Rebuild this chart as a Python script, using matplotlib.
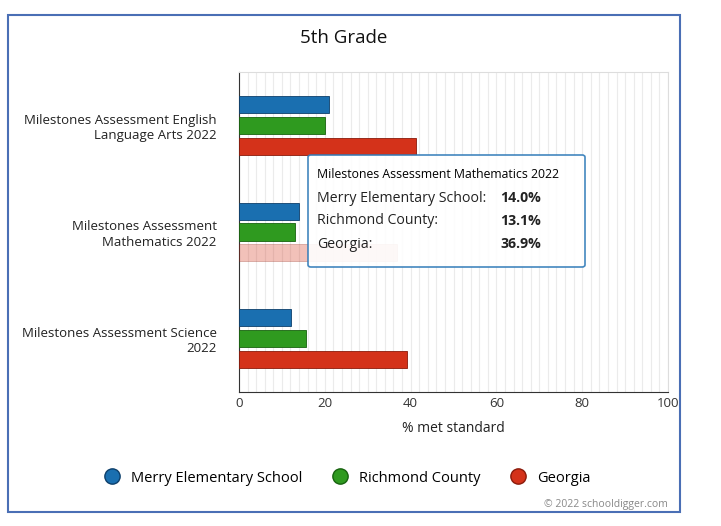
import matplotlib
matplotlib.use('Agg')
import matplotlib.pyplot as plt
from matplotlib.patches import Rectangle, FancyBboxPatch
from matplotlib.lines import Line2D
import numpy as np

plt.rcParams['font.family'] = ['Open Sans', 'DejaVu Sans']

categories = ["Milestones Assessment English\nLanguage Arts 2022",
              "Milestones Assessment\nMathematics 2022",
              "Milestones Assessment Science\n2022"]
series = ["Merry Elementary School", "Richmond County", "Georgia"]
merry = [21.0, 14.0, 12.2]
richmond = [20.0, 13.1, 15.6]
georgia = [41.2, 36.9, 39.1]
colors = ["#1a6fb0", "#2f9a1f", "#d4321a"]
edges = ["#0d3f6b", "#17620e", "#8a1a0a"]
values = [merry, richmond, georgia]

fig = plt.figure(figsize=(7.21, 5.26), dpi=100)
fig.patches.append(Rectangle((8/721, 1-512/526), 672/721, 497/526, transform=fig.transFigure,
                             fill=False, edgecolor="#4a6fb5", linewidth=1.5))
ax = fig.add_axes([239/721, 1-392/526, 429/721, 320/526])

y = np.arange(len(categories))
offsets = [-0.196, 0, 0.196]
for i, (vals, c) in enumerate(zip(values, colors)):
    for j, v in enumerate(vals):
        alpha = 1.0
        if j == 1 and i == 2:
            alpha = 0.3
        ax.barh(y[j] + offsets[i], v, height=0.16, color=c, edgecolor=edges[i],
                linewidth=0.6, alpha=alpha, zorder=3)

ax.set_xlim(0, 100)
ax.set_ylim(2.5, -0.5)
ax.set_xticks(range(0, 101, 20))
ax.set_xticks(range(0, 101, 2), minor=True)
ax.grid(True, axis='x', which='both', color="#ebebeb", linewidth=0.8, zorder=0)
ax.set_yticks(y)
ax.set_yticklabels(categories, fontsize=9.5, color="#222222")
ax.tick_params(axis='y', length=0, pad=16)
ax.tick_params(axis='x', labelsize=9.5, colors="#333333", which='both', length=0)
ax.set_xlabel("% met standard", fontsize=10, color="#222222", labelpad=8)
for s in ['top', 'right']:
    ax.spines[s].set_color("#dddddd")
ax.spines['left'].set_color("#333333")
ax.spines['bottom'].set_color("#333333")

fig.text(344/721, 1-38/526, "5th Grade", ha='center', va='center', fontsize=13.5, color="#111111")

# tooltip
tx0, ty0, tw, th = 308/721, 1-267/526, 277/721, 112/526
fig.patches.append(FancyBboxPatch((tx0, ty0), tw, th, boxstyle="round,pad=0,rounding_size=0.004",
                                  transform=fig.transFigure, facecolor="white", alpha=0.9,
                                  edgecolor="#2f7ab8", linewidth=1.2, zorder=10))
fig.text(317/721, 1-175/526, "Milestones Assessment Mathematics 2022", fontsize=8.8, va='center', zorder=11)
rows = [("Merry Elementary School:", "14.0%", 198), ("Richmond County:", "13.1%", 221), ("Georgia:", "36.9%", 244)]
for lab, val, yy in rows:
    fig.text(317/721, 1-yy/526, lab, fontsize=10.2, va='center', zorder=11, color="#222222")
    fig.text(500/721, 1-yy/526, val, fontsize=10.2, va='center', zorder=11, fontweight='bold', color="#222222")

handles = [Line2D([], [], marker='o', linestyle='', markersize=11, markerfacecolor=c, markeredgecolor=e)
           for c, e in zip(colors, edges)]
fig.legend(handles, series, loc='center', bbox_to_anchor=(344/721, 1-478/526), ncol=3, frameon=False,
           fontsize=10.5, handletextpad=0.3, columnspacing=1.6)
fig.text(668/721, 1-504/526, "© 2022 schooldigger.com", ha='right', va='center', fontsize=7.5, color="#888888")

fig.savefig("out.png", dpi=100)
